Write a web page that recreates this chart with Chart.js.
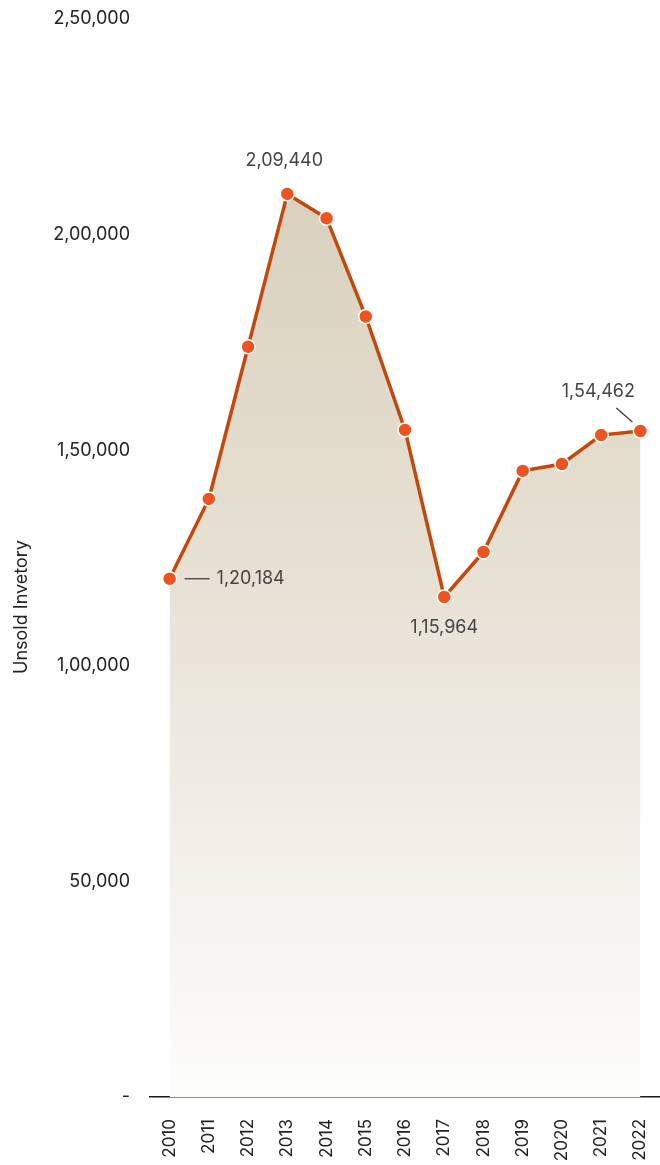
<!DOCTYPE html>
<html>
<head>
<meta charset="utf-8">
<script src="https://cdn.jsdelivr.net/npm/chart.js@4/dist/chart.umd.min.js"></script>
<style>
  html, body { margin: 0; padding: 0; background: #fff; }
  canvas { display: block; }
</style>
</head>
<body>
<canvas id="inventoryChart" width="660" height="1165"></canvas>
<script>
var years = ['2010', '2011', '2012', '2013', '2014', '2015', '2016', '2017', '2018', '2019', '2020', '2021', '2022'];
var unsold = [120184, 138700, 174000, 209440, 203800, 181000, 154700, 115964, 126400, 145200, 146800, 153500, 154462];
var yTicks = [0, 50000, 100000, 150000, 200000, 250000];
var axisTitle = 'Unsold Invetory';

// indian grouping, e.g. 2,09,440
function inr(n) {
    var s = String(Math.round(n));
    var last3 = s.slice(-3);
    var rest = s.slice(0, -3);
    if (!rest) return last3;
    return rest.replace(/\B(?=(\d{2})+(?!\d))/g, ',') + ',' + last3;
}

var FONT = 'Inter, "Liberation Sans", sans-serif';

// value labels with small leader lines
var labelPlugin = {
    id: 'labels',
    afterDatasetsDraw: function(chart) {
        var ctx = chart.ctx;
        var meta = chart.getDatasetMeta(0);
        ctx.save();
        ctx.font = '18px ' + FONT;
        ctx.fillStyle = '#444';
        ctx.textBaseline = 'middle';

        // 2010 - to the right with a dash
        var p = meta.data[0];
        ctx.strokeStyle = '#333';
        ctx.lineWidth = 1.2;
        ctx.beginPath();
        ctx.moveTo(p.x + 15, p.y);
        ctx.lineTo(p.x + 40, p.y);
        ctx.stroke();
        ctx.textAlign = 'left';
        ctx.fillText(inr(unsold[0]), p.x + 47, p.y);

        // 2013 peak - above
        p = meta.data[3];
        ctx.textAlign = 'center';
        ctx.fillText(inr(unsold[3]), p.x - 3, p.y - 33);

        // 2017 low - below
        p = meta.data[7];
        ctx.fillText(inr(unsold[7]), p.x, p.y + 31);

        // 2022 - up-left with diagonal leader
        p = meta.data[12];
        ctx.beginPath();
        ctx.moveTo(p.x - 24, p.y - 23);
        ctx.lineTo(p.x - 8, p.y - 9);
        ctx.stroke();
        ctx.fillText(inr(unsold[12]), p.x - 42, p.y - 39);

        // y axis title
        ctx.save();
        ctx.translate(22, 607);
        ctx.rotate(-Math.PI / 2);
        ctx.font = '18px ' + FONT;
        ctx.fillStyle = '#222';
        ctx.textAlign = 'center';
        ctx.fillText(axisTitle, 0, 0);
        ctx.restore();

        ctx.restore();
    }
};

var canvas = document.getElementById('inventoryChart');

var chart = new Chart(canvas, {
    type: 'line',
    data: {
        labels: years,
        datasets: [{
            label: axisTitle,
            data: unsold,
            borderColor: '#c2480c',
            borderWidth: 3.5,
            fill: 'origin',
            backgroundColor: function(context) {
                var area = context.chart.chartArea;
                if (!area) return '#e4ddcf';
                var g = context.chart.ctx.createLinearGradient(0, 190, 0, area.bottom);
                g.addColorStop(0, '#d9d1bd');
                g.addColorStop(0.45, '#e8e2d6');
                g.addColorStop(1, '#fdfdfc');
                return g;
            },
            pointRadius: 7,
            pointHoverRadius: 7,
            pointBackgroundColor: '#ee5420',
            pointBorderColor: '#ffffff',
            pointBorderWidth: 1.5,
            tension: 0,
            clip: false
        }]
    },
    options: {
        responsive: false,
        animation: false,
        devicePixelRatio: 1,
        layout: { autoPadding: false, padding: { top: 19, right: 0, left: 0, bottom: 0 } },
        plugins: {
            legend: { display: false },
            tooltip: { enabled: false }
        },
        scales: {
            x: {
                offset: true,
                grid: { display: false, drawTicks: false },
                border: { display: true, color: '#1a1a1a', width: 1.5 },
                ticks: {
                    color: '#222',
                    font: { family: FONT, size: 17 },
                    minRotation: 90,
                    maxRotation: 90,
                    padding: 22,
                    autoSkip: false
                },
                afterFit: function(scale) {
                    scale.height = 68;
                    scale.paddingLeft = 0;
                    scale.paddingRight = 0;
                }
            },
            y: {
                min: 0,
                max: 250000,
                afterBuildTicks: function(scale) {
                    scale.ticks = yTicks.map(function(v) { return { value: v }; });
                },
                grid: { display: false, drawTicks: false },
                border: { display: false },
                ticks: {
                    color: '#222',
                    font: { family: FONT, size: 18 },
                    padding: 20,
                    callback: function(value) {
                        return value === 0 ? '-' : inr(value);
                    }
                },
                afterFit: function(scale) {
                    scale.width = 150;
                    scale.paddingTop = 0;
                    scale.paddingBottom = 0;
                }
            }
        }
    },
    plugins: [labelPlugin]
});
</script>
</body>
</html>
